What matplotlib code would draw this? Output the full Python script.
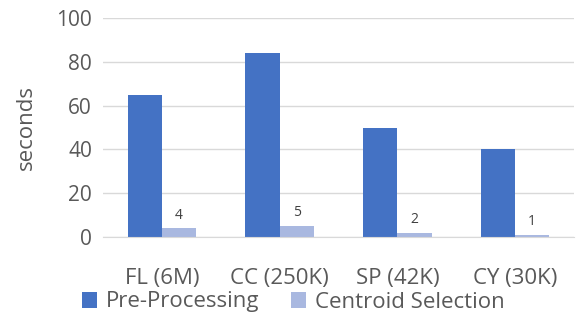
import matplotlib
matplotlib.use("Agg")
import matplotlib.pyplot as plt
import numpy as np

plt.rcParams['font.family'] = ['Open Sans', 'DejaVu Sans']

categories = ["FL (6M)", "CC (250K)", "SP (42K)", "CY (30K)"]
pre_processing = [65, 84, 50, 40]
centroid_selection = [4, 5, 2, 1]

fig = plt.figure(figsize=(5.81, 3.27), dpi=100)
ax = fig.add_axes([103 / 581, 1 - 237 / 327, 471 / 581, 219 / 327])

x = np.arange(len(categories))
w = 0.29
b1 = ax.bar(x - w / 2, pre_processing, w, color="#4472C4", label="Pre-Processing")
b2 = ax.bar(x + w / 2, centroid_selection, w, color="#A9B8E0", label="Centroid Selection")
ax.bar_label(b2, padding=4, fontsize=10, color="#404040")

ax.set_ylim(0, 100)
ax.set_xlim(-0.5, len(categories) - 0.5)
ax.set_yticks(range(0, 101, 20))
ax.set_xticks(x)
ax.set_xticklabels(categories)
ax.grid(axis="y", color="#D9D9D9", linewidth=1)
ax.set_axisbelow(True)
for s in ["top", "right", "left"]:
    ax.spines[s].set_visible(False)
ax.spines["bottom"].set_color("#D9D9D9")
ax.tick_params(axis="both", length=0, labelsize=15, colors="#595959")
ax.tick_params(axis="x", labelsize=16, pad=22)
ax.tick_params(axis="y", pad=8)
ax.set_ylabel("seconds", fontsize=16, color="#595959", labelpad=14)

fig.legend(handles=[b1, b2], loc="center", bbox_to_anchor=(0.505, 1 - 302 / 327),
           ncol=2, frameon=False, fontsize=16, labelcolor="#595959",
           handlelength=0.7, handleheight=0.7, handletextpad=0.4, columnspacing=1.4)

fig.savefig("out.png", dpi=100)
